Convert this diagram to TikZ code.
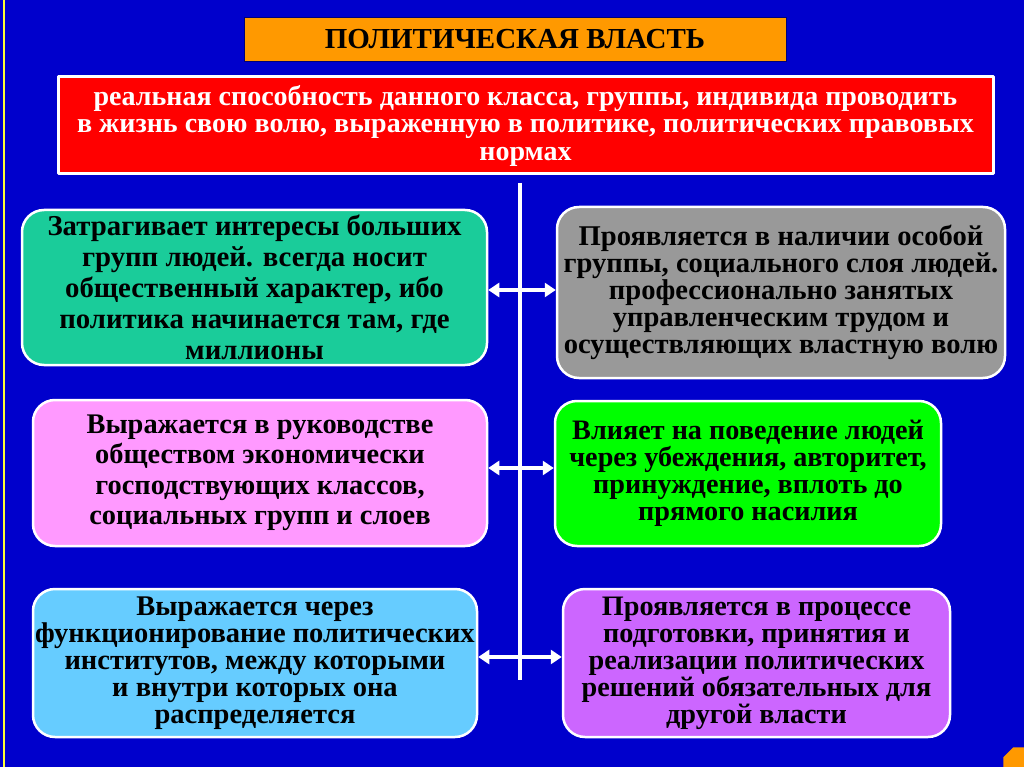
\documentclass[tikz,border=0pt]{standalone}
\usepackage{fontspec}
\setmainfont{Liberation Serif}
\usetikzlibrary{arrows.meta,shapes.geometric}
\definecolor{slideblue}{HTML}{0000CC}
\definecolor{stripe}{HTML}{FFFF33}
\definecolor{titleorange}{HTML}{FF9900}
\definecolor{defred}{HTML}{FF0000}
\definecolor{cardteal}{HTML}{1ACC9A}
\definecolor{cardgray}{HTML}{999999}
\definecolor{cardpink}{HTML}{FF99FF}
\definecolor{cardgreen}{HTML}{00FF00}
\definecolor{cardsky}{HTML}{66CCFF}
\definecolor{cardviolet}{HTML}{CC66FF}
\newcommand{\cardfont}[2]{\fontsize{#1}{#2}\selectfont\bfseries}
\tikzset{
  every picture/.style = {line join=round},
  card/.style   = {draw=white, line width=2.5pt, rounded corners=22pt,
                   align=center, inner sep=0pt},
  twoway/.style = {white, line width=3.5pt,
                   {Triangle[length=11pt,width=14pt]}-{Triangle[length=11pt,width=14pt]}},
}

\begin{document}
\begin{tikzpicture}[x=1pt, y=-1pt]
  % slide background, 1 unit = 1 pixel of the slide
  \fill[slideblue] (0,0) rectangle (1024,767);
  \useasboundingbox (0,0) rectangle (1024,767);
  \draw[stripe, line width=2pt] (4,0) -- (4,767);
  \begin{scope}
    \clip (0,0) rectangle (1024,767);
    \node[regular polygon, regular polygon sides=8, fill=titleorange,
          minimum size=36pt, inner sep=0pt] (badge) at (1020,764) {};
  \end{scope}

  % --- heading and definition ---------------------------------------------
  \node[fill=titleorange, draw=slideblue!60!black, line width=0.8pt,
        minimum width=542pt, minimum height=44pt, inner sep=0pt,
        font=\cardfont{29}{32}] (title) at (515,39) {ПОЛИТИЧЕСКАЯ ВЛАСТЬ};
  \node[fill=defred, draw=white, line width=3pt, text=white, align=center,
        minimum width=935pt, minimum height=97pt, inner sep=0pt,
        font=\cardfont{28}{27.5}] (power) at (525.5,125.5)
    {реальная способность данного класса, группы, индивида проводить\\
     в жизнь свою волю, выраженную в политике, политических правовых\\
     нормах};

  % --- spine -------------------------------------------------------------
  \coordinate (spinetop) at (520,183);
  \coordinate (spinebot) at (520,680);
  \draw[white, line width=3.5pt] (spinetop) -- (spinebot);

  % --- left column -------------------------------------------------------
  \node[card, fill=cardteal, minimum width=465pt, minimum height=155pt,
        font=\cardfont{28.8}{31}] (interests) at (254.5,287.5)
    {Затрагивает интересы больших\\ групп людей. всегда носит\\
     общественный характер, ибо\\ политика начинается там, где\\ миллионы};
  \node[card, fill=cardpink, minimum width=454pt, minimum height=146pt,
        font=\cardfont{28.4}{30.5}] (leading) at (260,473)
    {Выражается в руководстве\\ обществом экономически\\
     господствующих классов,\\ социальных групп и слоев};
  \node[card, fill=cardsky, minimum width=444pt, minimum height=148pt,
        font=\cardfont{28.5}{27}] (institutes) at (255,663)
    {Выражается через\\ функционирование политических\\
     институтов, между которыми\\ и внутри которых она\\ распределяется};

  % --- right column ------------------------------------------------------
  \node[card, fill=cardgray, minimum width=448pt, minimum height=171pt,
        font=\cardfont{28.6}{27}] (stratum) at (781,292.5)
    {Проявляется в наличии особой\\ группы, социального слоя людей.\\
     профессионально занятых\\ управленческим трудом и\\
     осуществляющих властную волю};
  \node[card, fill=cardgreen, minimum width=386pt, minimum height=145pt,
        font=\cardfont{28.2}{27}] (influence) at (748,473.5)
    {Влияет на поведение людей\\ через убеждения, авторитет,\\
     принуждение, вплоть до\\ прямого насилия};
  \node[card, fill=cardviolet, minimum width=387pt, minimum height=148pt,
        font=\cardfont{28.2}{27}] (decisions) at (756.5,663)
    {Проявляется в процессе\\ подготовки, принятия и\\
     реализации политических\\ решений обязательных для\\ другой власти};

  % --- links across the spine ----------------------------------------------
  \draw[twoway] (interests.east |- 0,290) -- (stratum.west |- 0,290);
  \draw[twoway] (leading.east |- 0,468) -- (influence.west |- 0,468);
  \draw[twoway] (institutes.east |- 0,657) -- (decisions.west |- 0,657);
\end{tikzpicture}
\end{document}
